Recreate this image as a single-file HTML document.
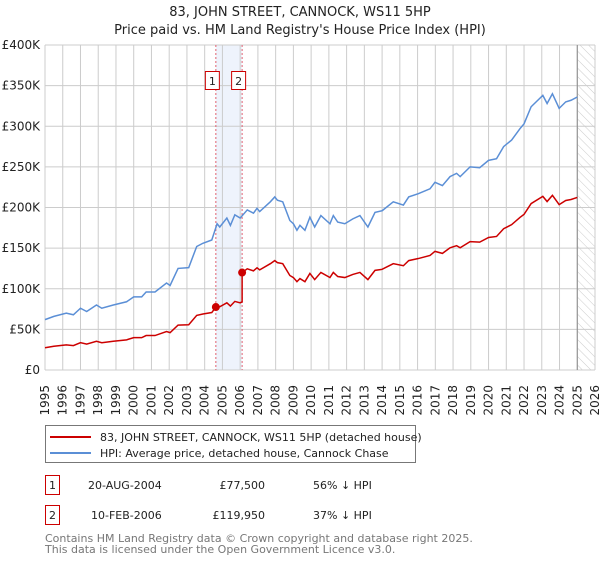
<!DOCTYPE html>
<html><head><meta charset="utf-8"><style>
body{margin:0;background:#fff;font-family:"DejaVu Sans","Liberation Sans",sans-serif;}
svg text{font-family:"DejaVu Sans","Liberation Sans",sans-serif;}
</style></head><body>
<svg id="chart" width="600" height="560" viewBox="0 0 600 560" xmlns="http://www.w3.org/2000/svg">
<defs><pattern id="hatch" width="6" height="6" patternUnits="userSpaceOnUse" patternTransform="rotate(-45)"><line x1="0" y1="0" x2="0" y2="6" stroke="#ccc" stroke-width="1"/></pattern></defs>
<text x="300" y="16" text-anchor="middle" font-size="13" fill="#222">83, JOHN STREET, CANNOCK, WS11 5HP</text>
<text x="300" y="34" text-anchor="middle" font-size="13" fill="#222">Price paid vs. HM Land Registry's House Price Index (HPI)</text>
<g id="grid"></g>
<g id="marks"></g>
<g id="axes"></g>
<rect x="45.5" y="425.5" width="370" height="37" fill="#fff" stroke="#777"/>
<line x1="50" y1="437" x2="91" y2="437" stroke="#cc0000" stroke-width="2"/>
<text x="100" y="441" font-size="11" fill="#222">83, JOHN STREET, CANNOCK, WS11 5HP (detached house)</text>
<line x1="50" y1="453" x2="91" y2="453" stroke="#5b8fd6" stroke-width="2"/>
<text x="100" y="457" font-size="11" fill="#222">HPI: Average price, detached house, Cannock Chase</text>
<g>
<rect x="45.5" y="475.5" width="14" height="19" fill="#fff" stroke="#cc0000"/>
<text x="52.5" y="489" text-anchor="middle" font-size="11" fill="#222">1</text>
<text x="88" y="489" font-size="11" fill="#222">20-AUG-2004</text>
<text x="265" y="489" text-anchor="end" font-size="11" fill="#222">£77,500</text>
<text x="313" y="489" font-size="11" fill="#222">56% ↓ HPI</text>
</g>
<g>
<rect x="45.5" y="505.5" width="14" height="19" fill="#fff" stroke="#cc0000"/>
<text x="52.5" y="519" text-anchor="middle" font-size="11" fill="#222">2</text>
<text x="91" y="519" font-size="11" fill="#222">10-FEB-2006</text>
<text x="265" y="519" text-anchor="end" font-size="11" fill="#222">£119,950</text>
<text x="313" y="519" font-size="11" fill="#222">37% ↓ HPI</text>
</g>
<text x="45" y="542" font-size="11" fill="#777">Contains HM Land Registry data © Crown copyright and database right 2025.</text>
<text x="45" y="553" font-size="11" fill="#777">This data is licensed under the Open Government Licence v3.0.</text>
</svg>
<script>
const hpiYears=[1995.0,1995.5,1996.2,1996.6,1997.0,1997.35,1997.9,1998.2,1998.85,1999.6,2000.0,2000.45,2000.7,2001.2,2001.85,2002.05,2002.5,2003.1,2003.55,2003.9,2004.4,2004.7,2004.85,2005.25,2005.45,2005.7,2006.0,2006.4,2006.75,2006.95,2007.1,2007.7,2007.95,2008.1,2008.4,2008.8,2009.0,2009.2,2009.37,2009.65,2009.93,2010.2,2010.55,2011.06,2011.25,2011.5,2011.9,2012.35,2012.75,2013.2,2013.6,2014.0,2014.63,2015.2,2015.5,2016.04,2016.7,2016.98,2017.4,2017.83,2018.2,2018.4,2018.96,2019.5,2020.0,2020.45,2020.85,2021.3,2021.77,2022.0,2022.4,2023.06,2023.3,2023.6,2023.98,2024.35,2024.65,2025.0];
const hpiValues=[62,66,70,68,76,72,80,76,80,84,90,90,96,96,107,104,125,126,152,156,160,180,176,187,178,191,187,197,193,199,195,207,213,209,207,184,180,172,178,172,188,176,190,180,190,182,180,186,190,176,194,196,207,203,213,217,223,231,227,238,242,238,250,249,258,260,275,283,297,303,324,338,328,340,322,330,332,336];
const saleDates=[2004.63,2006.11];
const salePrices=[77.5,119.95];
const yTicks=[0,50,100,150,200,250,300,350,400];
const yTickLabels=["£0","£50K","£100K","£150K","£200K","£250K","£300K","£350K","£400K"];
const xTicks=[1995,1996,1997,1998,1999,2000,2001,2002,2003,2004,2005,2006,2007,2008,2009,2010,2011,2012,2013,2014,2015,2016,2017,2018,2019,2020,2021,2022,2023,2024,2025,2026];
const forecastStart=2025.0;

const X0=45,X1=595,Y0=370,Y1=45;
const xS=y=>X0+(y-1995)/(2026-1995)*(X1-X0);
const yS=v=>Y0-v/400*(Y0-Y1);
const NS="http://www.w3.org/2000/svg";
function mk(tag,attrs,parent){const e=document.createElementNS(NS,tag);for(const k in attrs)e.setAttribute(k,attrs[k]);parent.appendChild(e);return e;}
const grid=document.getElementById('grid'),marks=document.getElementById('marks'),axes=document.getElementById('axes');
function hpiAt(t){for(let i=0;i<hpiYears.length-1;i++){if(t>=hpiYears[i]&&t<=hpiYears[i+1]){const f=(t-hpiYears[i])/(hpiYears[i+1]-hpiYears[i]);return hpiValues[i]+f*(hpiValues[i+1]-hpiValues[i]);}}return hpiValues[hpiValues.length-1];}

// sale shading
const shade=mk('rect',{x:xS(saleDates[0]),y:Y1,width:xS(saleDates[1])-xS(saleDates[0]),height:Y0-Y1,fill:'#eef3fc'},grid);


yTicks.forEach((v,i)=>{
  const l=mk('line',{x1:X0,x2:X1,y1:yS(v),y2:yS(v),stroke:'#ccc','stroke-width':1},grid);
  
  
  const t=mk('text',{x:X0-5,y:yS(v)+4,'text-anchor':'end','font-size':12,fill:'#222'},axes);
  t.textContent=yTickLabels[i];
  
  
});
xTicks.forEach(yr=>{
  const x=xS(yr);
  const l=mk('line',{x1:x,x2:x,y1:Y1,y2:Y0,stroke:'#ccc','stroke-width':1},grid);
  
  
  const t=mk('text',{x:0,y:0,transform:`translate(${x+4},${385}) rotate(-90)`,'text-anchor':'end','font-size':12,fill:'#222'},axes);
  t.textContent=yr;
  
  
});
// forecast hatch
const hx=xS(forecastStart);
const h=mk('rect',{x:hx,y:Y1,width:X1-hx,height:Y0-Y1,fill:'url(#hatch)'},grid);


const hl=mk('line',{x1:hx,x2:hx,y1:Y1,y2:Y0,stroke:'#888','stroke-width':1},grid);


// sale vertical lines & labels
saleDates.forEach((d,i)=>{
  const x=xS(d);
  const l=mk('line',{x1:x,x2:x,y1:Y1,y2:Y0,stroke:'#e06070','stroke-width':1,'stroke-dasharray':'2,2'},marks);
  
  
  const r=mk('rect',{x:x-10.5,y:71.5,width:14,height:18,fill:'#fff',stroke:'#cc0000'},marks);
  
  
  const t=mk('text',{x:x-3.5,y:85,'text-anchor':'middle','font-size':11,fill:'#222'},marks);
  t.textContent=String(i+1);
  
  
});
// HPI line
const hp=mk('polyline',{points:hpiYears.map((y,i)=>xS(y)+','+yS(hpiValues[i])).join(' '),fill:'none',stroke:'#5b8fd6','stroke-width':1.5},marks);


// property line: price indexed by HPI from each sale
const h1=hpiAt(saleDates[0]),h2=hpiAt(saleDates[1]);
const pts=[];
function pv(t){if(t<saleDates[1])return salePrices[0]*hpiAt(t)/h1;return salePrices[1]*hpiAt(t)/h2;}
const ts=[...hpiYears,...saleDates].sort((a,b)=>a-b);
ts.forEach(t=>{
  if(Math.abs(t-saleDates[1])<1e-9){pts.push([t,salePrices[0]*hpiAt(t)/h1]);pts.push([t,salePrices[1]]);}
  else pts.push([t,pv(t)]);
});
const pp=mk('polyline',{points:pts.map(p=>xS(p[0])+','+yS(p[1])).join(' '),fill:'none',stroke:'#cc0000','stroke-width':1.5},marks);


saleDates.forEach((d,i)=>{
  const c=mk('circle',{cx:xS(d),cy:yS(salePrices[i]),r:4,fill:'#cc0000'},marks);
  
  
});
</script>
</body></html>
